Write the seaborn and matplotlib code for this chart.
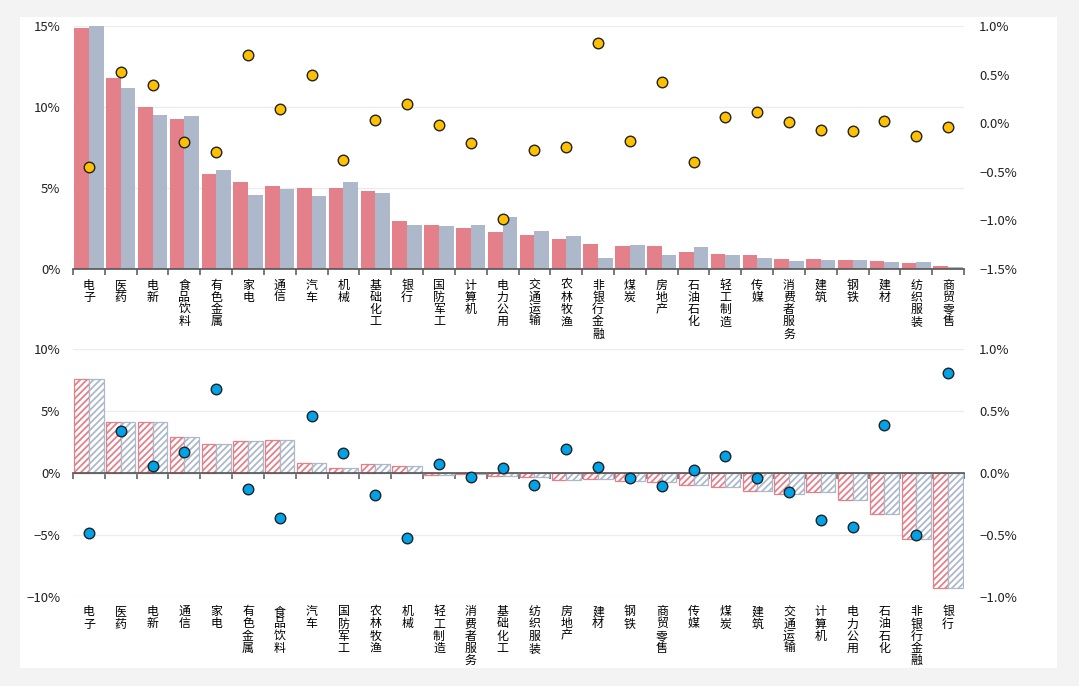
import numpy as np
import pandas as pd
import matplotlib
matplotlib.use("Agg")
import matplotlib.pyplot as plt
import seaborn as sns
from matplotlib.patches import Rectangle
from matplotlib.ticker import FixedLocator, FuncFormatter

# ---------------- data ----------------
top_cats = ["电子", "医药", "电新", "食品饮料", "有色金属", "家电", "通信", "汽车", "机械",
            "基础化工", "银行", "国防军工", "计算机", "电力公用", "交通运输", "农林牧渔",
            "非银行金融", "煤炭", "房地产", "石油石化", "轻工制造", "传媒", "消费者服务",
            "建筑", "钢铁", "建材", "纺织服装", "商贸零售"]
top_red = [14.9, 11.77, 9.97, 9.27, 5.84, 5.36, 5.12, 5.03, 5.03, 4.79, 2.96, 2.73, 2.53,
           2.28, 2.08, 1.83, 1.56, 1.40, 1.40, 1.03, 0.95, 0.86, 0.60, 0.60, 0.55, 0.47,
           0.37, 0.16]
top_blue = [15.0, 11.2, 9.51, 9.45, 6.10, 4.58, 4.95, 4.52, 5.38, 4.71, 2.73, 2.67, 2.69,
            3.18, 2.36, 2.03, 0.68, 1.50, 0.88, 1.38, 0.84, 0.68, 0.51, 0.58, 0.58, 0.41,
            0.45, 0.14]
top_dots = [-0.45, 0.53, 0.39, -0.195, -0.30, 0.70, 0.144, 0.50, -0.377, 0.038, 0.195,
            -0.02, -0.20, -0.986, -0.274, -0.24, 0.825, -0.178, 0.42, -0.40, 0.062, 0.113,
            0.017, -0.072, -0.079, 0.027, -0.13, -0.041]

bot_cats = ["电子", "医药", "电新", "通信", "家电", "有色金属", "食品饮料", "汽车", "国防军工",
            "农林牧渔", "机械", "轻工制造", "消费者服务", "基础化工", "纺织服装", "房地产",
            "建材", "钢铁", "商贸零售", "传媒", "煤炭", "建筑", "交通运输", "计算机",
            "电力公用", "石油石化", "非银行金融", "银行"]
bot_red = [7.6, 4.13, 4.08, 2.90, 2.36, 2.58, 2.68, 0.78, 0.40, 0.70, 0.59, -0.12, -0.05,
           -0.21, -0.27, -0.54, -0.48, -0.62, -0.72, -0.94, -1.13, -1.45, -1.66, -1.50,
           -2.15, -3.33, -5.32, -9.23]
bot_blue = [7.6, 4.13, 4.08, 2.90, 2.36, 2.58, 2.68, 0.78, 0.40, 0.70, 0.59, -0.12, -0.05,
            -0.21, -0.27, -0.54, -0.48, -0.62, -0.72, -0.94, -1.13, -1.45, -1.66, -1.50,
            -2.15, -3.33, -5.32, -9.23]
bot_dots = [-0.479, 0.337, 0.058, 0.168, 0.675, -0.128, -0.364, 0.46, 0.16, -0.178, -0.525,
            0.074, -0.031, 0.039, -0.093, 0.197, 0.047, -0.036, -0.103, 0.028, 0.138,
            -0.042, -0.149, -0.375, -0.436, 0.385, -0.50, 0.81]

series_names = ["系列一", "系列二"]
top_left_ticks = [0, 5, 10, 15]
top_right_ticks = [-1.5, -1.0, -0.5, 0.0, 0.5, 1.0]
bot_left_ticks = [-10, -5, 0, 5, 10]
bot_right_ticks = [-1.0, -0.5, 0.0, 0.5, 1.0]

# ---------------- style ----------------
sns.set_theme(style="white")
plt.rcParams["font.family"] = ["Noto Sans CJK SC", "DejaVu Sans"]
plt.rcParams["axes.unicode_minus"] = True
plt.rcParams["hatch.linewidth"] = 1.3

RED = "#e3808a"
BLUE = "#adb9cb"
YELLOW = "#ffc000"
CYAN = "#00a2e8"
AXIS = "#555555"
GRID = "#ececec"
TXT = "#222222"

W, H, DPI = 1079, 686, 100
fig = plt.figure(figsize=(W / DPI, H / DPI), dpi=DPI)
fig.patch.set_facecolor("#f3f3f3")
fig.patches.append(Rectangle((20 / W, 1 - 668 / H), (1057 - 20) / W, (668 - 17) / H,
                             transform=fig.transFigure, facecolor="white",
                             edgecolor="none", zorder=-10))

left = 73 / W
width = (964 - 73) / W
ax_top = fig.add_axes([left, 1 - 269 / H, width, (269 - 26) / H])
ax_bot = fig.add_axes([left, 1 - 597.3 / H, width, (597.3 - 349) / H])


def pct_int(v, pos=None):
    s = f"{v:.0f}%"
    return s.replace("-", "\u2212")


def pct_1(v, pos=None):
    s = f"{v:.1f}%"
    if s == "-0.0%":
        s = "0.0%"
    return s.replace("-", "\u2212")


def vertical(lbl):
    return "\n".join(list(lbl))


def style_axes(ax, ax2, cats, lticks, rticks, ylim_l, ylim_r, label_pad, zero_spine=False):
    n = len(cats)
    ax.set_xlim(-0.5, n - 0.5)
    ax.set_ylim(*ylim_l)
    ax2.set_ylim(*ylim_r)
    for a in (ax, ax2):
        for s in ("top", "left", "right", "bottom"):
            a.spines[s].set_visible(False)
        a.set_xlabel("")
        a.set_ylabel("")
    ax.spines["bottom"].set_visible(True)
    if zero_spine:
        ax.spines["bottom"].set_position(("data", 0))
    ax.spines["bottom"].set_color(AXIS)
    ax.spines["bottom"].set_linewidth(1.2)
    ax.yaxis.set_major_locator(FixedLocator(lticks))
    ax.yaxis.set_major_formatter(FuncFormatter(pct_int))
    ax2.yaxis.set_major_locator(FixedLocator(rticks))
    ax2.yaxis.set_major_formatter(FuncFormatter(pct_1))
    ax.grid(axis="y", color=GRID, linewidth=0.9)
    ax.grid(axis="x", visible=False)
    ax2.grid(False)
    ax.set_axisbelow(True)
    ax.tick_params(axis="y", length=0, pad=9, labelsize=9.5, labelcolor=TXT)
    ax2.tick_params(axis="y", length=0, pad=11, labelsize=9.5, labelcolor=TXT)
    ax.set_xticks(np.arange(n))
    ax.set_xticklabels([vertical(c) for c in cats], fontsize=8.6, linespacing=0.92,
                       color="black", va="top")
    ax.set_xticks(np.arange(n + 1) - 0.5, minor=True)
    ax.tick_params(axis="x", which="major", length=0, pad=label_pad)
    ax.tick_params(axis="x", which="minor", length=4, width=1.1, color=AXIS,
                   direction="out", bottom=True)


# ---------------- top panel ----------------
df_top = pd.DataFrame({
    "cat": top_cats * 2,
    "val": top_red + top_blue,
    "ser": [series_names[0]] * len(top_cats) + [series_names[1]] * len(top_cats),
})
sns.barplot(data=df_top, x="cat", y="val", hue="ser", order=top_cats,
            hue_order=series_names, palette=[RED, BLUE], width=0.92, gap=0,
            linewidth=0, saturation=1, ax=ax_top, legend=False, zorder=2)
ax_top2 = ax_top.twinx()
sns.stripplot(x=top_cats, y=top_dots, order=top_cats, jitter=False, color=YELLOW,
              edgecolor="#222222", linewidth=1.0, size=7.6, ax=ax_top2, zorder=5)
style_axes(ax_top, ax_top2, top_cats, top_left_ticks, top_right_ticks,
           (0, 15), (-1.5, 1.0), label_pad=7)

# ---------------- bottom panel ----------------
df_bot = pd.DataFrame({
    "cat": bot_cats * 2,
    "val": bot_red + bot_blue,
    "ser": [series_names[0]] * len(bot_cats) + [series_names[1]] * len(bot_cats),
})
sns.barplot(data=df_bot, x="cat", y="val", hue="ser", order=bot_cats,
            hue_order=series_names, palette=[RED, BLUE], width=0.92, gap=0,
            fill=False, linewidth=0.9, saturation=1, ax=ax_bot, legend=False, zorder=2)
for p in ax_bot.patches:
    p.set_hatch("/////")
    p.set_facecolor("white")
    p.set_fill(True)
ax_bot2 = ax_bot.twinx()
sns.stripplot(x=bot_cats, y=bot_dots, order=bot_cats, jitter=False, color=CYAN,
              edgecolor="#222222", linewidth=1.0, size=7.6, ax=ax_bot2, zorder=5)

# the zero line sits mid-axes; labels go below the axes bottom
zero_frac = (0 - (-10)) / 20
pad_px = zero_frac * (597.3 - 349) + 8
style_axes(ax_bot, ax_bot2, bot_cats, bot_left_ticks, bot_right_ticks,
           (-10, 10), (-1.0, 1.0), label_pad=pad_px * 72 / DPI, zero_spine=True)

for a in (ax_top2, ax_bot2):
    a.set_zorder(3)
    a.patch.set_visible(False)

fig.savefig("out.png", dpi=DPI, facecolor=fig.get_facecolor())
